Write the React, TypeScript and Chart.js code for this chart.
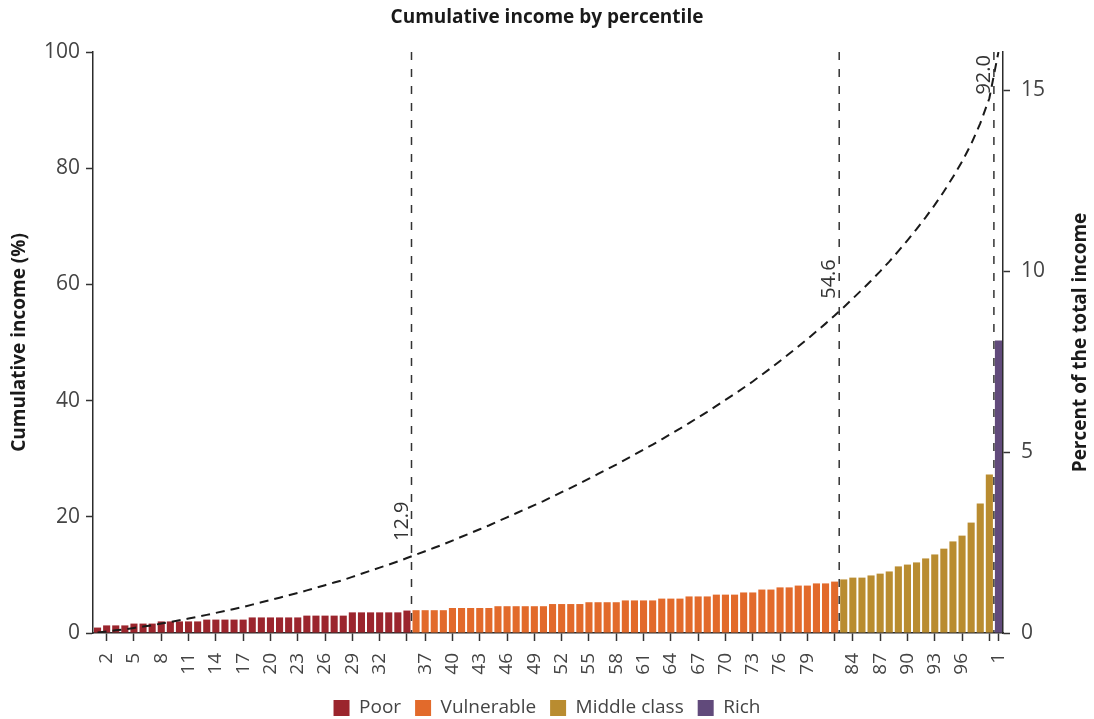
import React, { useEffect, useRef } from "react";
import { Chart, registerables } from "chart.js";

Chart.register(...registerables);
Chart.defaults.font.family = '"Open Sans", sans-serif';

// ---------- data ----------
const percentiles = [
  1, 2, 3, 4, 5, 6, 7, 8, 9, 10, 11, 12, 13, 14, 15, 16, 17, 18, 19, 20,
  21, 22, 23, 24, 25, 26, 27, 28, 29, 30, 31, 32, 33, 34, 35, 36, 37, 38, 39, 40,
  41, 42, 43, 44, 45, 46, 47, 48, 49, 50, 51, 52, 53, 54, 55, 56, 57, 58, 59, 60,
  61, 62, 63, 64, 65, 66, 67, 68, 69, 70, 71, 72, 73, 74, 75, 76, 77, 78, 79, 80,
  81, 82, 83, 84, 85, 86, 87, 88, 89, 90, 91, 92, 93, 94, 95, 96, 97, 98, 99, 100,
];

// share of total income (%) per percentile, by group
const poorShares = [
  0.15, 0.21, 0.21, 0.21, 0.26, 0.26, 0.26, 0.32, 0.32, 0.32, 0.32, 0.32,
  0.37, 0.37, 0.37, 0.37, 0.37, 0.43, 0.43, 0.43, 0.43, 0.43, 0.43,
  0.48, 0.48, 0.48, 0.48, 0.48, 0.57, 0.57, 0.57, 0.57, 0.57, 0.57, 0.62,
];
const vulnerableShares = [
  0.63, 0.63, 0.63, 0.63, 0.69, 0.69, 0.69, 0.69, 0.69, 0.74, 0.74, 0.74, 0.74, 0.74, 0.74,
  0.8, 0.8, 0.8, 0.8, 0.85, 0.85, 0.85, 0.85, 0.9, 0.9, 0.9, 0.9,
  0.95, 0.95, 0.95, 1.01, 1.01, 1.01, 1.06, 1.06, 1.06, 1.12, 1.12,
  1.2, 1.2, 1.26, 1.26, 1.31, 1.31, 1.37, 1.37, 1.42,
];
const middleShares = [
  1.48, 1.53, 1.53, 1.59, 1.64, 1.7, 1.84, 1.89, 1.95, 2.06, 2.17, 2.33, 2.53,
  2.69, 3.05, 3.58, 4.38,
];
const richShares = [8.08];

// cumulative income (%) by percentile
const cumulativeIncome = [
  0.1, 0.28, 0.46, 0.64, 0.87, 1.1, 1.33, 1.62, 1.91, 2.2,
  2.49, 2.78, 3.12, 3.46, 3.8, 4.14, 4.48, 4.88, 5.28, 5.68,
  6.08, 6.48, 6.88, 7.33, 7.78, 8.23, 8.68, 9.13, 9.66, 10.19,
  10.72, 11.25, 11.78, 12.31, 12.9, 13.49, 14.08, 14.67, 15.26, 15.91,
  16.56, 17.21, 17.86, 18.51, 19.21, 19.91, 20.61, 21.31, 22.01, 22.71,
  23.47, 24.23, 24.99, 25.75, 26.56, 27.37, 28.18, 28.99, 29.85, 30.71,
  31.57, 32.43, 33.34, 34.25, 35.16, 36.13, 37.1, 38.07, 39.09, 40.11,
  41.13, 42.21, 43.29, 44.45, 45.61, 46.83, 48.05, 49.32, 50.59, 51.92,
  53.25, 54.63, 56.08, 57.58, 59.08, 60.64, 62.25, 63.92, 65.73, 67.59,
  69.51, 71.54, 73.68, 75.98, 78.48, 81.14, 84.16, 87.7, 92.03, 100.0,
];

const groupNames = ["Poor", "Vulnerable", "Middle class", "Rich"];
const groupColors = ["#9b252d", "#e26a2b", "#b98c30", "#614a7b"];
const groupShares = [poorShares, vulnerableShares, middleShares, richShares];

// x tick labels (percentile -> text)
const labelledPercentiles = [
  2, 5, 8, 11, 14, 17, 20, 23, 26, 29, 32, 37, 40, 43, 46, 49, 52, 55, 58, 61,
  64, 67, 70, 73, 76, 79, 84, 87, 90, 93, 96, 100,
];
const labelledTexts = [
  "2", "5", "8", "11", "14", "17", "20", "23", "26", "29", "32", "37", "40", "43", "46", "49",
  "52", "55", "58", "61", "64", "67", "70", "73", "76", "79", "84", "87", "90", "93", "96", "1",
];
const unlabelledTickPercentiles = [35, 82, 99];

// group boundaries (last percentile of each group) and cumulative labels
const boundaryPercentiles = [35, 82, 99];
const boundaryValues = [12.9, 54.6, 92.0];
const boundaryLabels = ["12.9", "54.6", "92.0"];

const leftTicks = [0, 20, 40, 60, 80, 100];
const rightTicks = [0, 5, 10, 15];

// ---------- helpers ----------
function buildGroupData(gi: number): (number | null)[] {
  let start = 0;
  for (let k = 0; k < gi; k++) start += groupShares[k].length;
  const arr: (number | null)[] = percentiles.map(() => null);
  groupShares[gi].forEach((v, j) => {
    arr[start + j] = v;
  });
  return arr;
}

function hasTick(index: number) {
  const p = percentiles[index];
  return labelledPercentiles.includes(p) || unlabelledTickPercentiles.includes(p);
}
function tickText(index: number) {
  const p = percentiles[index];
  const k = labelledPercentiles.indexOf(p);
  return k >= 0 ? labelledTexts[k] : "";
}

const AXIS = "#2b2b2b";
const TEXT = "#444";

const overlayPlugin = {
  id: "overlay",
  afterLayout(chart: any) {
    const lg = chart.legend;
    if (lg) {
      lg.top += 8.5;
      lg.bottom += 8.5;
    }
  },
  afterDatasetsDraw(chart: any) {
    const { ctx, chartArea, scales } = chart;
    const xs = scales.x;
    const ys = scales.y;
    ctx.save();
    boundaryPercentiles.forEach((b, i) => {
      const idx = percentiles.indexOf(b);
      const x = (xs.getPixelForValue(idx) + xs.getPixelForValue(idx + 1)) / 2;
      ctx.beginPath();
      ctx.setLineDash([8, 9]);
      ctx.lineWidth = 1.5;
      ctx.strokeStyle = "#333";
      ctx.moveTo(x, chartArea.top);
      ctx.lineTo(x, chartArea.bottom);
      ctx.stroke();
      ctx.setLineDash([]);

      ctx.font = '20px "Open Sans"';
      const w = ctx.measureText(boundaryLabels[i]).width;
      const yv = ys.getPixelForValue(boundaryValues[i]);
      const anchorY = Math.max(yv - 17, chartArea.top + w + 3);
      ctx.save();
      ctx.translate(x - 4, anchorY);
      ctx.rotate(-Math.PI / 2);
      ctx.fillStyle = "#333";
      ctx.textAlign = "left";
      ctx.textBaseline = "alphabetic";
      ctx.fillText(boundaryLabels[i], 0, 0);
      ctx.restore();
    });
    ctx.restore();
  },
  afterDraw(chart: any) {
    const { ctx, chartArea } = chart;
    const midY = (chartArea.top + chartArea.bottom) / 2;
    ctx.save();
    ctx.fillStyle = "#1a1a1a";
    ctx.font = 'bold 19px "Open Sans"';
    ctx.textAlign = "center";
    ctx.textBaseline = "middle";
    ctx.fillText("Cumulative income by percentile", chart.width / 2, 18);

    ctx.save();
    ctx.translate(20, midY);
    ctx.rotate(-Math.PI / 2);
    ctx.fillText("Cumulative income (%)", 0, 0);
    ctx.restore();

    ctx.save();
    ctx.translate(1081, midY);
    ctx.rotate(-Math.PI / 2);
    ctx.fillText("Percent of the total income", 0, 0);
    ctx.restore();
    ctx.restore();
  },
};

export default function App() {
  const ref = useRef<HTMLCanvasElement>(null);
  useEffect(() => {
    document.body.style.margin = "0";
    const canvas = ref.current;
    if (!canvas) return;

    const barDatasets = groupNames.map((name, gi) => ({
      type: "bar" as const,
      label: name,
      data: buildGroupData(gi),
      backgroundColor: groupColors[gi],
      borderWidth: 0,
      yAxisID: "y2",
      grouped: false,
      barPercentage: 0.78,
      categoryPercentage: 1,
      order: 1,
    }));

    const chart = new Chart(canvas, {
      type: "bar",
      data: {
        labels: percentiles.map(String),
        datasets: [
          {
            type: "line" as const,
            label: "Cumulative",
            data: cumulativeIncome,
            yAxisID: "y",
            borderColor: "#1a1a1a",
            borderWidth: 2,
            borderDash: [9, 6],
            pointRadius: 0,
            fill: false,
            tension: 0,
            order: 0,
          } as any,
          ...barDatasets,
        ],
      },
      options: {
        animation: false,
        responsive: true,
        maintainAspectRatio: false,
        layout: { padding: { top: 52, left: 0, right: 0, bottom: 0 } },
        plugins: {
          title: { display: false },
          tooltip: { enabled: false },
          legend: {
            display: true,
            position: "bottom",
            labels: {
              boxWidth: 16,
              boxHeight: 16,
              padding: 14,
              color: TEXT,
              font: { size: 19 },
              filter: (item: any) => item.text !== "Cumulative",
            },
          },
        },
        scales: {
          x: {
            type: "category",
            offset: true,
            grid: {
              display: true,
              drawOnChartArea: false,
              drawTicks: true,
              tickLength: 8,
              offset: false,
              tickWidth: 1.5,
              tickColor: (c: any) => (hasTick(c.index) ? "#333" : "rgba(0,0,0,0)"),
            },
            border: { display: true, color: AXIS, width: 1.5 },
            ticks: {
              autoSkip: false,
              minRotation: 90,
              maxRotation: 90,
              padding: 12,
              color: TEXT,
              font: { size: 19 },
              callback: (_v: any, i: number) => tickText(i),
            },
            afterFit: (s: any) => {
              s.height = 43;
            },
          },
          y: {
            type: "linear",
            position: "left",
            min: leftTicks[0],
            max: leftTicks[leftTicks.length - 1],
            afterBuildTicks: (s: any) => {
              s.ticks = leftTicks.map((v) => ({ value: v }));
            },
            ticks: { color: TEXT, font: { size: 21 }, padding: 6 },
            grid: {
              drawOnChartArea: false,
              drawTicks: true,
              tickLength: 7,
              tickWidth: 1.5,
              tickColor: "#333",
            },
            border: { display: true, color: AXIS, width: 1.5 },
            afterFit: (s: any) => {
              s.width = 93;
            },
          },
          y2: {
            type: "linear",
            position: "right",
            min: 0,
            max: 16.05,
            afterBuildTicks: (s: any) => {
              s.ticks = rightTicks.map((v) => ({ value: v }));
            },
            ticks: { color: TEXT, font: { size: 21 }, padding: 11 },
            grid: {
              drawOnChartArea: false,
              drawTicks: true,
              tickLength: 7,
              tickWidth: 1.5,
              tickColor: "#333",
            },
            border: { display: true, color: AXIS, width: 1.5 },
            afterFit: (s: any) => {
              s.width = 91;
            },
          },
        },
      } as any,
      plugins: [overlayPlugin],
    });
    return () => chart.destroy();
  }, []);

  return (
    <div style={{ width: 1094, height: 719, position: "relative" }}>
      <canvas ref={ref} />
    </div>
  );
}
